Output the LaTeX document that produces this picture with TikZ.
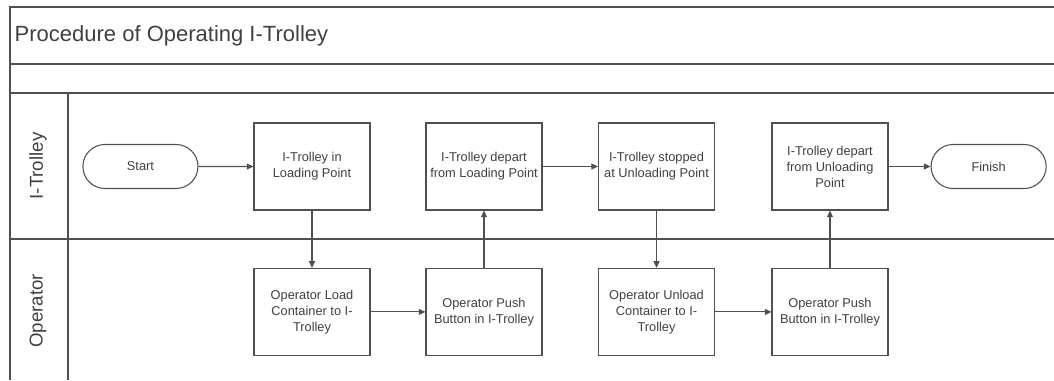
\documentclass[tikz,border=0pt]{standalone}
\usepackage{fontspec}
\setmainfont{Liberation Sans}
\usetikzlibrary{
  arrows.meta,
  positioning,
  shapes.misc
}
\definecolor{framegray}{HTML}{505050}
\definecolor{textgray}{HTML}{404040}

\begin{document}
\begin{tikzpicture}[
    x=0.75pt, y=-0.75pt,
    every node/.style={font=\fontsize{9.6}{12}\selectfont, text=textgray},
    stepbox/.style={
      rectangle, draw=framegray, line width=0.8pt,
      minimum width=87pt, minimum height=65.25pt,
      align=center, inner sep=2pt, fill=white
    },
    terminal/.style={
      rounded rectangle, draw=framegray, line width=0.8pt,
      minimum width=93pt, minimum height=33pt, fill=white
    },
    lanelabel/.style={rotate=90, font=\fontsize{14}{16}\selectfont},
    lane/.style={draw=framegray, line width=0.8pt},
    arrow/.style={-{Triangle[length=5pt,width=4.5pt]}, draw=framegray, line width=0.8pt},
  ]
  \useasboundingbox (0,0) rectangle (1054,380);

  % --- Pool frame ---
  \draw[lane] (1054,7) -| (10,380);
  \draw[lane] (10,64) -- (1054,64);
  \draw[lane] (10,93) -- (1054,93);
  \draw[lane] (68,93) -- (68,380);
  \draw[lane] (10,239) -- (1054,239);

  % --- Title and lane labels ---
  \node[anchor=west, font=\fontsize{16.5}{20}\selectfont] (title) at (10,36)
    {Procedure of Operating I-Trolley};
  \node[lanelabel] (lanetrolley) at (38,166) {I-Trolley};
  \node[lanelabel] (laneoperator) at (38,311) {Operator};

  % --- I-Trolley lane ---
  \node[stepbox] (loadpt) at (312,166.5)
    {I-Trolley in\\Loading Point};
  \node[terminal, left=41.2pt of loadpt] (start) {Start};
  \node[stepbox, right=41.2pt of loadpt] (departload)
    {I-Trolley depart\\from Loading Point};
  \node[stepbox, right=41.6pt of departload] (stopunload)
    {I-Trolley stopped\\at Unloading Point};
  \node[stepbox, right=42.3pt of stopunload] (departunload)
    {I-Trolley depart\\from Unloading\\Point};
  \node[terminal, right=31.5pt of departunload] (finish) {Finish};

  % --- Operator lane ---
  \node[stepbox, below=43pt of loadpt] (opload)
    {Operator Load\\Container to I-\\Trolley};
  \node[stepbox, below=43pt of departload] (oppush)
    {Operator Push\\Button in I-Trolley};
  \node[stepbox, below=43pt of stopunload] (opunload)
    {Operator Unload\\Container to I-\\Trolley};
  \node[stepbox, below=43pt of departunload] (oppushtwo)
    {Operator Push\\Button in I-Trolley};

  % --- Arrows ---
  \draw[arrow] (start) -- (loadpt);
  \draw[arrow] (loadpt) -- (opload);
  \draw[arrow] (opload) -- (oppush);
  \draw[arrow] (oppush) -- (departload);
  \draw[arrow] (departload) -- (stopunload);
  \draw[arrow] (stopunload) -- (opunload);
  \draw[arrow] (opunload) -- (oppushtwo);
  \draw[arrow] (oppushtwo) -- (departunload);
  \draw[arrow] (departunload) -- (finish);

\end{tikzpicture}
\end{document}
